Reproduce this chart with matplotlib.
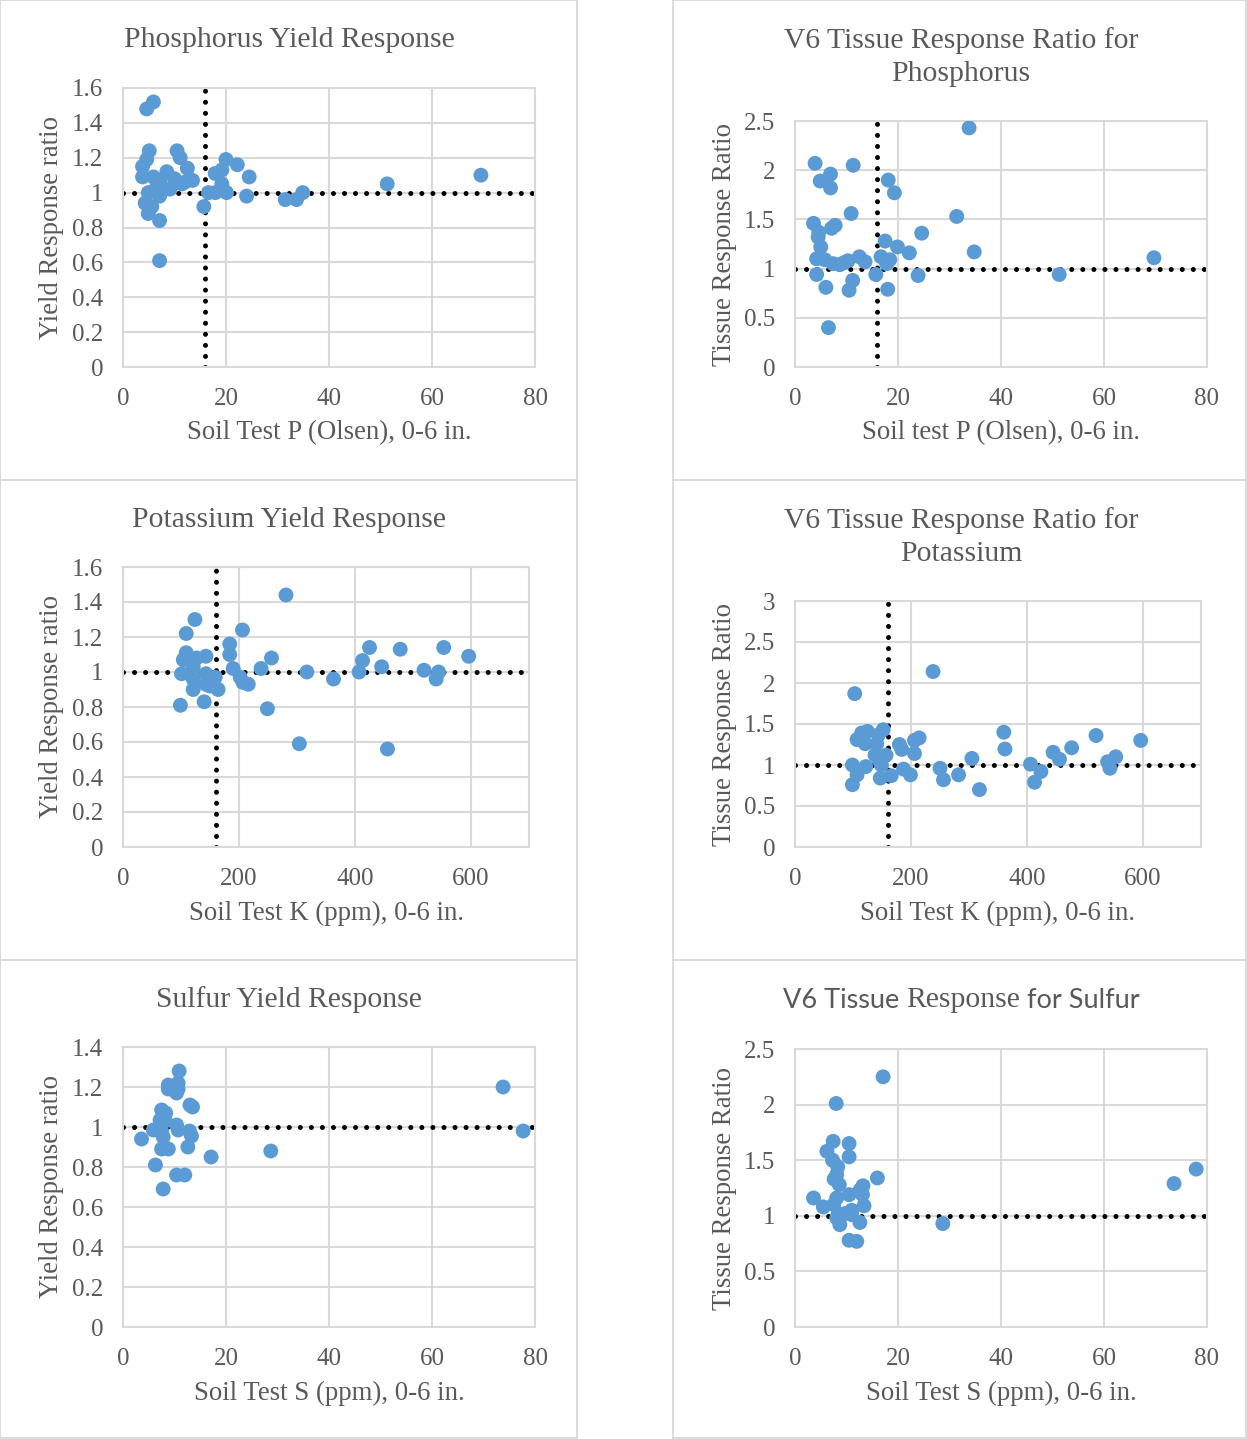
import matplotlib
matplotlib.use("Agg")
import matplotlib.pyplot as plt
from matplotlib.patches import Rectangle

W, H = 1247, 1439
SERIF = "Liberation Serif"
GREY_TXT = "#595959"
GRID = "#d9d9d9"
BLUE = "#5b9bd5"

# ---- data ----
p_soil = [5.9, 4.6, 5.1, 10.5, 11.1, 4.6, 3.8, 8.5, 12.5, 13.5, 11.4, 3.8, 5.9, 7.2, 9.1,
          4.9, 7.1, 4.3, 5.6, 4.9, 7.1, 7.1, 15.7, 16.6, 17.9, 19.2, 20.1, 17.9, 19.2, 20.0,
          22.2, 24.5, 24.0, 31.5, 33.7, 34.9, 51.3, 69.5, 6.5, 10.0, 12.0]
p_yield = [1.52, 1.48, 1.24, 1.24, 1.20, 1.19, 1.15, 1.12, 1.14, 1.07, 1.05, 1.09, 1.09, 1.07, 1.02,
           1.00, 0.98, 0.94, 0.92, 0.88, 0.84, 0.61, 0.92, 1.00, 1.00, 1.05, 1.00, 1.11, 1.13, 1.19,
           1.16, 1.09, 0.98, 0.96, 0.96, 1.00, 1.05, 1.10, 1.03, 1.08, 1.06]

pt_soil = [33.8, 3.9, 11.3, 6.9, 4.9, 6.9, 18.1, 19.3, 10.9, 31.4, 3.6, 7.8, 7.1, 4.5, 5.0,
           24.6, 34.8, 17.5, 19.9, 22.2, 16.7, 18.4, 4.2, 5.8, 7.4, 8.7, 10.3, 12.5, 13.6, 4.2,
           15.7, 23.9, 11.2, 6.0, 10.5, 18.0, 6.5, 51.3, 69.7, 4.6, 9.5, 17.8]
pt_ratio = [2.43, 2.07, 2.05, 1.96, 1.89, 1.82, 1.90, 1.77, 1.56, 1.53, 1.46, 1.44, 1.41, 1.32, 1.22,
            1.36, 1.17, 1.28, 1.22, 1.16, 1.12, 1.09, 1.10, 1.09, 1.05, 1.04, 1.08, 1.12, 1.07, 0.94,
            0.94, 0.93, 0.88, 0.81, 0.78, 0.79, 0.40, 0.94, 1.11, 1.37, 1.06, 1.05]

k_soil = [281, 124, 109, 206, 184, 184, 109, 104, 127, 143, 121, 256, 238, 190, 101, 143, 159,
          121, 202, 207, 216, 143, 121, 164, 150, 140, 99, 249, 304, 317, 363, 425, 413, 407,
          446, 478, 456, 519, 540, 544, 553, 596]
k_yield = [1.44, 1.30, 1.22, 1.24, 1.16, 1.10, 1.11, 1.07, 1.08, 1.09, 1.03, 1.08, 1.02, 1.02, 0.99,
           0.99, 0.97, 0.96, 0.97, 0.94, 0.93, 0.93, 0.90, 0.90, 0.92, 0.83, 0.81, 0.79, 0.59, 1.00,
           0.96, 1.14, 1.065, 1.00, 1.03, 1.13, 0.56, 1.01, 0.96, 1.00, 1.14, 1.09]

kt_soil = [238, 103, 152, 125, 115, 107, 121, 141, 144, 214, 206, 180, 184, 206, 138, 157, 145,
           149, 99, 122, 107, 99, 147, 166, 187, 199, 250, 256, 282, 305, 318, 360, 362, 406,
           413, 424, 445, 456, 477, 519, 539, 543, 553, 596]
kt_ratio = [2.14, 1.87, 1.43, 1.41, 1.39, 1.31, 1.26, 1.26, 1.37, 1.33, 1.30, 1.25, 1.19, 1.14, 1.12,
            1.12, 1.06, 1.00, 1.00, 0.98, 0.88, 0.76, 0.84, 0.87, 0.95, 0.88, 0.96, 0.82, 0.88, 1.08,
            0.70, 1.40, 1.195, 1.01, 0.79, 0.92, 1.155, 1.07, 1.21, 1.36, 1.04, 0.96, 1.10, 1.30]

s_soil = [10.9, 8.8, 8.8, 10.7, 10.4, 10.7, 13.0, 13.5, 7.5, 8.3, 7.2, 8.2, 10.4, 10.7, 5.9,
          7.5, 7.8, 12.9, 13.3, 3.6, 7.5, 8.8, 12.6, 17.1, 6.3, 10.4, 12.0, 7.8, 28.7, 73.8, 77.7]
s_yield = [1.28, 1.21, 1.19, 1.22, 1.17, 1.19, 1.11, 1.10, 1.085, 1.07, 1.035, 1.03, 1.01, 0.985, 0.985,
           0.98, 0.95, 0.98, 0.955, 0.94, 0.89, 0.89, 0.90, 0.85, 0.81, 0.76, 0.76, 0.69, 0.88, 1.20, 0.98]

st_soil = [17.1, 8.0, 7.4, 10.5, 10.5, 6.2, 7.3, 8.3, 8.1, 7.6, 8.6, 16.0, 13.2, 12.6, 13.1,
           3.6, 10.5, 8.1, 5.5, 7.5, 13.4, 11.0, 8.4, 9.7, 11.0, 8.1, 12.6, 8.7, 10.5, 12.0,
           28.7, 73.6, 77.9]
st_ratio = [2.25, 2.01, 1.67, 1.65, 1.53, 1.58, 1.50, 1.44, 1.37, 1.33, 1.28, 1.34, 1.27, 1.23, 1.19,
            1.16, 1.19, 1.16, 1.08, 1.10, 1.09, 1.05, 1.02, 1.02, 1.01, 0.98, 0.94, 0.92, 0.78, 0.77,
            0.93, 1.29, 1.42]

p_crit = 16
k_crit = 160


def fx(px):
    return px / W


def fy(py):
    return 1 - py / H


fig = plt.figure(figsize=(W / 100, H / 100), dpi=100)

# chart boxes
for x0, x1 in [(0, 577), (673, 1246)]:
    for y0, y1 in [(0, 480), (480, 960), (960, 1438)]:
        fig.patches.append(Rectangle((fx(x0), fy(y1)), fx(x1 - x0), (y1 - y0) / H,
                                     transform=fig.transFigure, fill=False,
                                     edgecolor=GRID, linewidth=1.3))


def panel(box, xs, ys, xmax, xstep, ymax, ystep, xlab, ylab, vline=None):
    l, t, r, b = box
    ax = fig.add_axes([fx(l), fy(b), fx(r - l), (b - t) / H])
    ax.scatter(xs, ys, s=115, color=BLUE, edgecolors="none", zorder=3)
    dots = dict(color="black", lw=3.6, ls=(0, (0.01, 2.2)), dash_capstyle="round", zorder=2)
    ax.plot([0, xmax], [1, 1], **dots)
    if vline is not None:
        ax.plot([vline, vline], [0, ymax], **dots)
    ax.set_xlim(0, xmax)
    ax.set_ylim(0, ymax)
    xt = [i * xstep for i in range(int(xmax / xstep) + 1)]
    yt = [round(i * ystep, 2) for i in range(int(round(ymax / ystep)) + 1)]
    ax.set_xticks(xt)
    ax.set_yticks(yt)
    ax.set_xticklabels([f"{v:g}" for v in xt])
    ax.set_yticklabels([f"{v:g}" for v in yt])
    ax.grid(True, color=GRID, lw=1.5)
    ax.set_axisbelow(True)
    for sp in ax.spines.values():
        sp.set_color(GRID)
        sp.set_linewidth(1.5)
    ax.tick_params(length=0, labelsize=18, colors=GREY_TXT, pad=15)
    for lab in ax.get_xticklabels() + ax.get_yticklabels():
        lab.set_fontfamily(SERIF)
    ax.tick_params(axis="y", pad=14)
    fig.text(fx((l + r) / 2), fy(b + 66), xlab, ha="center", va="center",
             fontsize=19.3, family=SERIF, color=GREY_TXT)
    fig.text(fx(l - 71), fy((t + b) / 2), ylab, ha="center", va="center", rotation=90,
             fontsize=19.3, family=SERIF, color=GREY_TXT)
    return ax


def title(cx, cy, txt):
    fig.text(fx(cx), fy(cy), txt, ha="center", va="center", fontsize=21.3,
             family=SERIF, color=GREY_TXT, linespacing=1.32)


panel((123, 88, 535, 367), p_soil, p_yield, 80, 20, 1.6, 0.2,
      "Soil Test P (Olsen), 0-6 in.", "Yield Response ratio", vline=p_crit)
title(289, 40, "Phosphorus Yield Response")

panel((795, 121, 1207, 367), pt_soil, pt_ratio, 80, 20, 2.5, 0.5,
      "Soil test P (Olsen), 0-6 in.", "Tissue Response Ratio", vline=p_crit)
title(961, 57, "V6 Tissue Response Ratio for\nPhosphorus")

panel((123, 567, 529, 847), k_soil, k_yield, 700, 200, 1.6, 0.2,
      "Soil Test K (ppm), 0-6 in.", "Yield Response ratio", vline=k_crit)
title(289, 520, "Potassium Yield Response")

panel((795, 601, 1201, 847), kt_soil, kt_ratio, 700, 200, 3, 0.5,
      "Soil Test K (ppm), 0-6 in.", "Tissue Response Ratio", vline=k_crit)
title(961, 537, "V6 Tissue Response Ratio for\nPotassium")

panel((123, 1047, 535, 1327), s_soil, s_yield, 80, 20, 1.4, 0.2,
      "Soil Test S (ppm), 0-6 in.", "Yield Response ratio")
title(289, 1000, "Sulfur Yield Response")

panel((795, 1049, 1207, 1327), st_soil, st_ratio, 80, 20, 2.5, 0.5,
      "Soil Test S (ppm), 0-6 in.", "Tissue Response Ratio")

# last title mixes a sans and a serif face, as in the original
parts = [("V6 Tissue ", "Lato", 19.5), ("Response", SERIF, 21.3), (" for Sulfur", "Lato", 19.5)]
renderer = fig.canvas.get_renderer()
texts = []
for s, fam, size in parts:
    t = fig.text(0, fy(1000), s, ha="left", va="center", fontsize=size,
                 family=fam, color=GREY_TXT)
    texts.append(t)
widths = [t.get_window_extent(renderer).width for t in texts]
x = 961 - sum(widths) / 2
for t, w in zip(texts, widths):
    t.set_x(fx(x))
    x += w

fig.savefig("out.png", dpi=100, facecolor="white")
